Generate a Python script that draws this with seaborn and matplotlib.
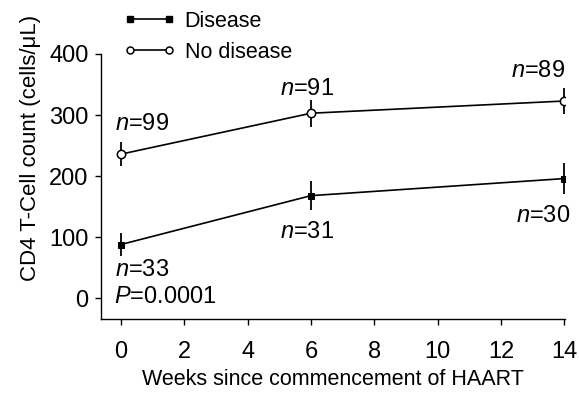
import numpy as np
import pandas as pd
import matplotlib
matplotlib.use("Agg")
import matplotlib.pyplot as plt
from matplotlib.lines import Line2D
import seaborn as sns

# data
weeks = [0, 6, 14]
disease_mean = [88, 168, 196]
disease_err = [19, 24, 26]
nodisease_mean = [236, 303, 323]
nodisease_err = [20, 22, 22]
disease_n = [33, 31, 30]
nodisease_n = [99, 91, 89]
groups = ["Disease", "No disease"]

sns.set_theme(style="ticks")
plt.rcParams["font.family"] = ["Liberation Sans", "DejaVu Sans"]
plt.rcParams["mathtext.fontset"] = "custom"
plt.rcParams["mathtext.rm"] = "Liberation Sans"
plt.rcParams["mathtext.it"] = "Liberation Sans:italic"
plt.rcParams["text.color"] = "black"
plt.rcParams["axes.labelcolor"] = "black"

df = pd.DataFrame({
    "week": weeks * 2,
    "count": disease_mean + nodisease_mean,
    "group": [groups[0]] * 3 + [groups[1]] * 3,
})

fig = plt.figure(figsize=(5.79, 3.93), dpi=100)
ax = fig.add_axes([101 / 579, 1 - 319 / 393, 464 / 579, 265 / 393])

ax.errorbar(weeks, disease_mean, yerr=disease_err, fmt="none", ecolor="black",
            elinewidth=1.3, capsize=0, zorder=1)
ax.errorbar(weeks, nodisease_mean, yerr=nodisease_err, fmt="none", ecolor="black",
            elinewidth=1.3, capsize=0, zorder=1)

sns.lineplot(data=df, x="week", y="count", hue="group", style="group",
             markers={"Disease": "s", "No disease": "o"}, dashes=False,
             palette={"Disease": "black", "No disease": "black"},
             linewidth=1.2, markersize=6, ax=ax, legend=False, zorder=3)
# open circles for the no disease group
for line in ax.lines:
    if line.get_marker() == "o":
        line.set_markerfacecolor("white")
        line.set_markeredgecolor("black")
        line.set_markeredgewidth(1.1)
        line.set_markersize(6)
    elif line.get_marker() == "s":
        line.set_markerfacecolor("black")
        line.set_markeredgecolor("black")
        line.set_markersize(5)

ax.set_xlim(-0.63, 14.02)
ax.set_ylim(-34, 398)
ax.set_xticks(np.arange(0, 15, 2))
ax.set_yticks([0, 100, 200, 300, 400])
ax.tick_params(labelsize=17, length=4, width=1, color="black", labelcolor="black")
ax.tick_params(axis="x", pad=12)
ax.tick_params(axis="y", pad=5)
sns.despine(ax=ax)
for s in ["left", "bottom"]:
    ax.spines[s].set_linewidth(1.0)
    ax.spines[s].set_color("black")
ax.spines["left"].set_bounds(-34, 400)

ax.set_xlabel("Weeks since commencement of HAART", fontsize=15.5, labelpad=4)
ax.set_ylabel("CD4 T-Cell count (cells/\u03bcL)", fontsize=16)
ax.yaxis.set_label_coords(-0.13, 0.645)

fs = 17
ax.text(-0.19, 285, r"$\it{n}$=%d" % nodisease_n[0], fontsize=fs, ha="left", va="center")
ax.text(5.88, 343, r"$\it{n}$=%d" % nodisease_n[1], fontsize=fs, ha="center", va="center")
ax.text(14.03, 372, r"$\it{n}$=%d" % nodisease_n[2], fontsize=fs, ha="right", va="center")
ax.text(-0.19, 46, r"$\it{n}$=%d" % disease_n[0], fontsize=fs, ha="left", va="center")
ax.text(5.88, 109, r"$\it{n}$=%d" % disease_n[1], fontsize=fs, ha="center", va="center")
ax.text(14.19, 135, r"$\it{n}$=%d" % disease_n[2], fontsize=fs, ha="right", va="center")
ax.text(-0.22, 2, r"$\it{P}$=0.0001", fontsize=fs, ha="left", va="center")

handles = [
    Line2D([], [], color="black", lw=1.2, marker="s", markersize=5,
           markerfacecolor="black"),
    Line2D([], [], color="black", lw=1.2, marker="o", markersize=5,
           markerfacecolor="white", markeredgewidth=1.1),
]
fig.legend(handles, groups, loc="upper left", bbox_to_anchor=(124 / 579, 1 - 11 / 393),
           frameon=False, numpoints=2, fontsize=15.5, handlelength=2.4,
           handletextpad=0.42, labelspacing=0.45, borderpad=0, borderaxespad=0)

fig.savefig("out.png", dpi=100)
